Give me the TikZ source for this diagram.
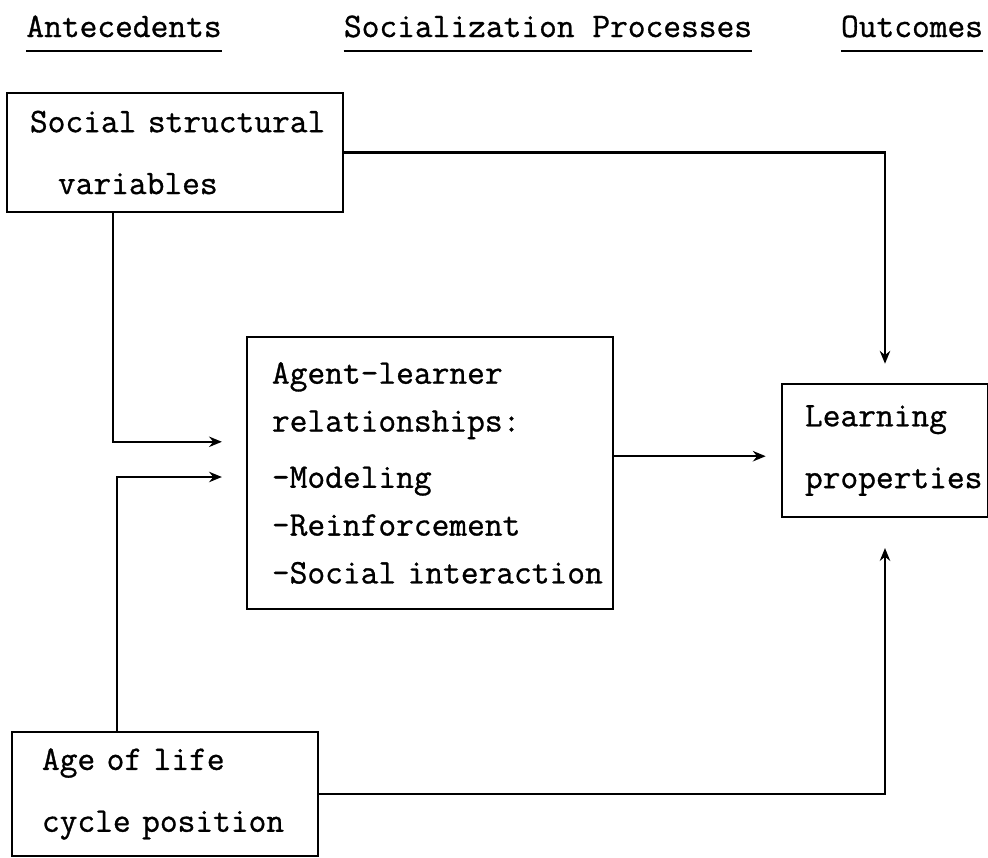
\documentclass[tikz,border=0pt]{standalone}
\usepackage{fontspec}
\usetikzlibrary{arrows.meta}
\newfontfamily\typeface[FakeBold=0.9]{Latin Modern Mono}
\newcommand\typew{\typeface\fontsize{24.5}{34}\selectfont}
\tikzset{
  box/.style={draw, line width=1.5pt, align=left, inner ysep=0pt, font=\typew},
  flow/.style={line width=1.6pt, -{Stealth[length=0.32cm,width=0.26cm]}},
  heading/.style={font=\typew, inner sep=0pt, anchor=base},
}
\begin{document}
\begin{tikzpicture}[x=0.025cm, y=-0.025cm]
  \useasboundingbox (0,0) rectangle (988,857);
  % column headings, underlined as on the typewriter
  \node[heading] (ante) at (124,37) {Antecedents};
  \node[heading] (soc) at (548,37) {Socialization Processes};
  \node[heading] (out) at (912,37) {Outcomes};
  \foreach \h in {ante,soc,out}
    \draw[line width=1.8pt] ([yshift=-0.35cm]\h.base west) -- ([yshift=-0.35cm]\h.base east);
  % boxes
  \node[box, inner xsep=0.575cm, text width=7.25cm, minimum height=2.975cm] (social) at (175,152.5)
    {\mbox{Social structural}\\[10pt]\hspace*{0.7cm}variables};
  \node[box, inner xsep=0.625cm, text width=7.9cm, minimum height=6.8cm] (agent) at (430,473)
    {Agent-learner\\relationships:\\[6pt]-Modeling\\-Reinforcement\\\mbox{-Social interaction}};
  \node[box, inner xsep=0.575cm, text width=4cm, minimum height=3.325cm] (learning) at (885,450.5)
    {Learning\\[10pt]\mbox{properties}};
  \node[box, inner xsep=0.75cm, text width=6.15cm, minimum height=3.1cm] (age) at (165,794)
    {Age of life\\[10pt]\mbox{cycle position}};
  % connectors
  \draw[flow, shorten >=0.48cm] (social.east) -| (learning.north);
  \draw[flow, shorten >=0.6cm] ([xshift=-1.55cm]social.south) |- ([yshift=0.78cm]agent.west);
  \draw[flow, shorten >=0.6cm] ([xshift=-1.2cm]age.north) |- ([yshift=-0.1cm]agent.west);
  \coordinate (outmid) at ([yshift=0.42cm]agent.east);
  \draw[flow, shorten >=0.38cm] (outmid) -- (outmid -| learning.west);
  \draw[flow, shorten >=0.75cm] (age.east) -| (learning.south);
\end{tikzpicture}
\end{document}
